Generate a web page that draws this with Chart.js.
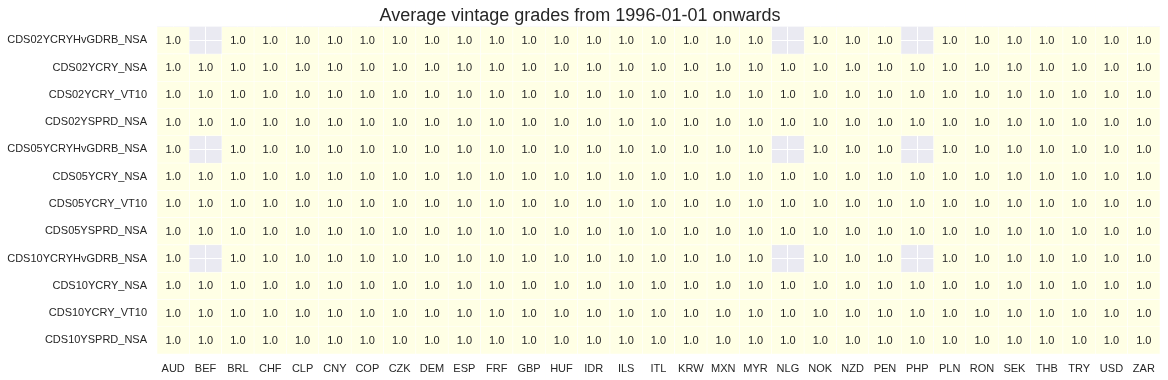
<!DOCTYPE html>
<html>
<head>
<meta charset="utf-8">
<script src="https://cdn.jsdelivr.net/npm/chart.js@4"></script>
<style>
  html, body { margin: 0; padding: 0; background: #ffffff; }
  #wrap { width: 1168px; height: 380px; position: relative; }
</style>
</head>
<body>
<div id="wrap"><canvas id="c" width="1168" height="380"></canvas></div>
<script>
const currencies = ["AUD","BEF","BRL","CHF","CLP","CNY","COP","CZK","DEM","ESP","FRF","GBP","HUF","IDR","ILS","ITL","KRW","MXN","MYR","NLG","NOK","NZD","PEN","PHP","PLN","RON","SEK","THB","TRY","USD","ZAR"];
// Note: 31 listed above + check
const indicators = ["CDS02YCRYHvGDRB_NSA","CDS02YCRY_NSA","CDS02YCRY_VT10","CDS02YSPRD_NSA","CDS05YCRYHvGDRB_NSA","CDS05YCRY_NSA","CDS05YCRY_VT10","CDS05YSPRD_NSA","CDS10YCRYHvGDRB_NSA","CDS10YCRY_NSA","CDS10YCRY_VT10","CDS10YSPRD_NSA"];
const title = "Average vintage grades from 1996-01-01 onwards";

// Grades per row (null = no data)
const CDS02YCRYHvGDRB_NSA = [1.0,null,1.0,1.0,1.0,1.0,1.0,1.0,1.0,1.0,1.0,1.0,1.0,1.0,1.0,1.0,1.0,1.0,1.0,null,1.0,1.0,1.0,null,1.0,1.0,1.0,1.0,1.0,1.0,1.0];
const CDS02YCRY_NSA       = [1.0,1.0,1.0,1.0,1.0,1.0,1.0,1.0,1.0,1.0,1.0,1.0,1.0,1.0,1.0,1.0,1.0,1.0,1.0,1.0,1.0,1.0,1.0,1.0,1.0,1.0,1.0,1.0,1.0,1.0,1.0];
const CDS02YCRY_VT10      = [1.0,1.0,1.0,1.0,1.0,1.0,1.0,1.0,1.0,1.0,1.0,1.0,1.0,1.0,1.0,1.0,1.0,1.0,1.0,1.0,1.0,1.0,1.0,1.0,1.0,1.0,1.0,1.0,1.0,1.0,1.0];
const CDS02YSPRD_NSA      = [1.0,1.0,1.0,1.0,1.0,1.0,1.0,1.0,1.0,1.0,1.0,1.0,1.0,1.0,1.0,1.0,1.0,1.0,1.0,1.0,1.0,1.0,1.0,1.0,1.0,1.0,1.0,1.0,1.0,1.0,1.0];
const CDS05YCRYHvGDRB_NSA = [1.0,null,1.0,1.0,1.0,1.0,1.0,1.0,1.0,1.0,1.0,1.0,1.0,1.0,1.0,1.0,1.0,1.0,1.0,null,1.0,1.0,1.0,null,1.0,1.0,1.0,1.0,1.0,1.0,1.0];
const CDS05YCRY_NSA       = [1.0,1.0,1.0,1.0,1.0,1.0,1.0,1.0,1.0,1.0,1.0,1.0,1.0,1.0,1.0,1.0,1.0,1.0,1.0,1.0,1.0,1.0,1.0,1.0,1.0,1.0,1.0,1.0,1.0,1.0,1.0];
const CDS05YCRY_VT10      = [1.0,1.0,1.0,1.0,1.0,1.0,1.0,1.0,1.0,1.0,1.0,1.0,1.0,1.0,1.0,1.0,1.0,1.0,1.0,1.0,1.0,1.0,1.0,1.0,1.0,1.0,1.0,1.0,1.0,1.0,1.0];
const CDS05YSPRD_NSA      = [1.0,1.0,1.0,1.0,1.0,1.0,1.0,1.0,1.0,1.0,1.0,1.0,1.0,1.0,1.0,1.0,1.0,1.0,1.0,1.0,1.0,1.0,1.0,1.0,1.0,1.0,1.0,1.0,1.0,1.0,1.0];
const CDS10YCRYHvGDRB_NSA = [1.0,null,1.0,1.0,1.0,1.0,1.0,1.0,1.0,1.0,1.0,1.0,1.0,1.0,1.0,1.0,1.0,1.0,1.0,null,1.0,1.0,1.0,null,1.0,1.0,1.0,1.0,1.0,1.0,1.0];
const CDS10YCRY_NSA       = [1.0,1.0,1.0,1.0,1.0,1.0,1.0,1.0,1.0,1.0,1.0,1.0,1.0,1.0,1.0,1.0,1.0,1.0,1.0,1.0,1.0,1.0,1.0,1.0,1.0,1.0,1.0,1.0,1.0,1.0,1.0];
const CDS10YCRY_VT10      = [1.0,1.0,1.0,1.0,1.0,1.0,1.0,1.0,1.0,1.0,1.0,1.0,1.0,1.0,1.0,1.0,1.0,1.0,1.0,1.0,1.0,1.0,1.0,1.0,1.0,1.0,1.0,1.0,1.0,1.0,1.0];
const CDS10YSPRD_NSA      = [1.0,1.0,1.0,1.0,1.0,1.0,1.0,1.0,1.0,1.0,1.0,1.0,1.0,1.0,1.0,1.0,1.0,1.0,1.0,1.0,1.0,1.0,1.0,1.0,1.0,1.0,1.0,1.0,1.0,1.0,1.0];

const rows = [CDS02YCRYHvGDRB_NSA, CDS02YCRY_NSA, CDS02YCRY_VT10, CDS02YSPRD_NSA,
              CDS05YCRYHvGDRB_NSA, CDS05YCRY_NSA, CDS05YCRY_VT10, CDS05YSPRD_NSA,
              CDS10YCRYHvGDRB_NSA, CDS10YCRY_NSA, CDS10YCRY_VT10, CDS10YSPRD_NSA];

const FONT = "'Liberation Sans', Arial, 'DejaVu Sans', sans-serif";
const TEXT = "#262626";
const CELL = "#FFFFE5";

const datasets = rows.map((vals, r) => ({
  label: indicators[r],
  grades: vals,
  data: vals.map(v => v === null ? null : [r - 0.5, r + 0.5]),
  backgroundColor: CELL,
  borderColor: "#ffffff",
  borderWidth: 0.6,
  borderSkipped: false,
  categoryPercentage: 1.0,
  barPercentage: 1.0,
  grouped: false
}));

const bgPlugin = {
  id: "bg",
  beforeDraw(chart) {
    const a = chart.chartArea, ctx = chart.ctx;
    ctx.save();
    ctx.fillStyle = "#EAEAF2";
    ctx.fillRect(a.left, a.top, a.right - a.left, a.bottom - a.top);
    ctx.restore();
  }
};

const labelPlugin = {
  id: "cellLabels",
  afterDatasetsDraw(chart) {
    const ctx = chart.ctx, xs = chart.scales.x, ys = chart.scales.y;
    ctx.save();
    ctx.font = "11px " + FONT;
    ctx.fillStyle = TEXT;
    ctx.textAlign = "center";
    ctx.textBaseline = "middle";
    chart.data.datasets.forEach((ds, r) => {
      ds.grades.forEach((v, c) => {
        if (v === null) return;
        ctx.fillText(v.toFixed(1), xs.getPixelForValue(c), ys.getPixelForValue(r) + 0.5);
      });
    });
    ctx.restore();
  }
};

new Chart(document.getElementById("c"), {
  type: "bar",
  data: { labels: currencies, datasets },
  plugins: [bgPlugin, labelPlugin],
  options: {
    responsive: false,
    animation: false,
    layout: { padding: { left: 0, right: 8, top: 0, bottom: 0 } },
    plugins: {
      legend: { display: false },
      tooltip: { enabled: false },
      title: {
        display: true,
        text: title,
        color: TEXT,
        font: { family: FONT, size: 18, weight: "normal", lineHeight: 1.2 },
        padding: { top: 5, bottom: 0 }
      }
    },
    scales: {
      x: {
        type: "category",
        offset: true,
        grid: { offset: false, color: "#ffffff", lineWidth: 1, drawTicks: false },
        border: { display: false },
        ticks: { color: TEXT, font: { family: FONT, size: 11 }, padding: 8, maxRotation: 0, autoSkip: false },
        afterFit(s) { s.height = 26; }
      },
      y: {
        type: "linear",
        min: -0.5,
        max: 11.5,
        reverse: true,
        grid: { color: "#ffffff", lineWidth: 1, drawTicks: false },
        border: { display: false },
        afterBuildTicks(s) { s.ticks = indicators.map((_, i) => ({ value: i })); },
        ticks: {
          color: TEXT,
          font: { family: FONT, size: 11 },
          padding: 10,
          autoSkip: false,
          callback: (v) => indicators[v] ?? ""
        },
        afterFit(s) { s.width = 157; }
      }
    }
  }
});
</script>
</body>
</html>
